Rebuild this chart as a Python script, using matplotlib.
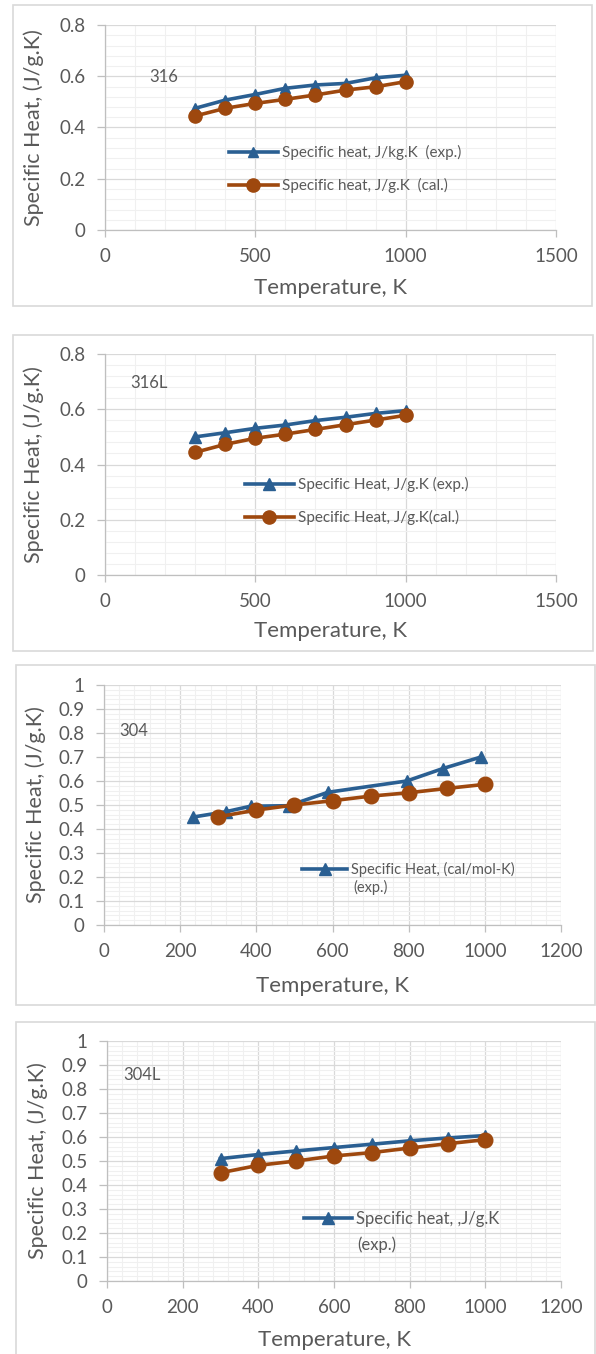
import matplotlib
matplotlib.use("Agg")
import matplotlib.pyplot as plt
from matplotlib.ticker import MultipleLocator, FuncFormatter
from matplotlib.patches import Rectangle

# ---------------- data ----------------
T_316 = [300, 400, 500, 600, 700, 800, 900, 1000]
cp_316_exp = [0.475, 0.507, 0.529, 0.553, 0.566, 0.572, 0.594, 0.604]
cp_316_cal = [0.445, 0.475, 0.494, 0.510, 0.527, 0.546, 0.559, 0.579]

T_316L = [300, 400, 500, 600, 700, 800, 900, 1000]
cp_316L_exp = [0.500, 0.515, 0.531, 0.543, 0.559, 0.571, 0.585, 0.595]
cp_316L_cal = [0.444, 0.473, 0.495, 0.510, 0.527, 0.544, 0.561, 0.578]

T_304_exp = [235, 320, 385, 485, 588, 795, 890, 990]
cp_304_exp = [0.450, 0.472, 0.495, 0.497, 0.553, 0.600, 0.652, 0.700]
T_304_cal = [300, 400, 500, 600, 700, 800, 900, 1000]
cp_304_cal = [0.451, 0.479, 0.500, 0.518, 0.537, 0.551, 0.569, 0.586]

T_304L = [300, 400, 500, 600, 700, 800, 900, 1000]
cp_304L_exp = [0.510, 0.527, 0.542, 0.556, 0.570, 0.584, 0.596, 0.606]
cp_304L_cal = [0.451, 0.482, 0.500, 0.521, 0.535, 0.554, 0.572, 0.589]

labels_316 = ["Specific heat, J/kg.K  (exp.)", "Specific heat, J/g.K  (cal.)"]
labels_316L = ["Specific Heat, J/g.K (exp.)", "Specific Heat, J/g.K(cal.)"]
label_304 = "Specific Heat, (cal/mol-K)"
label_304L = "Specific heat, ,J/g.K"

# ---------------- style ----------------
plt.rcParams['font.family'] = ['Lato', 'DejaVu Sans']
TXT = '#595959'
BLUE = '#2A5F92'
ORANGE = '#9E480E'
W, H = 596, 1354
fig = plt.figure(figsize=(W / 100, H / 100), dpi=100)


def fx(px):
    return px / W


def fy(py):
    return 1 - py / H


def border(l, t, r, b):
    fig.patches.append(Rectangle((fx(l), fy(b)), (r - l) / W, (b - t) / H,
                                 transform=fig.transFigure, fill=False,
                                 ec='#D9D9D9', lw=1.2))


def make_axes(l, t, r, b, xmax, xmaj, xmin, ymax, ymaj, ymin, ylab_x, xlab_y):
    ax = fig.add_axes([fx(l), fy(b), (r - l) / W, (b - t) / H])
    ax.set_xlim(0, xmax)
    ax.set_ylim(0, ymax)
    ax.xaxis.set_major_locator(MultipleLocator(xmaj))
    ax.xaxis.set_minor_locator(MultipleLocator(xmin))
    ax.yaxis.set_major_locator(MultipleLocator(ymaj))
    ax.yaxis.set_minor_locator(MultipleLocator(ymin))
    fmt = FuncFormatter(lambda v, p: ('%g' % round(v, 3)))
    ax.xaxis.set_major_formatter(fmt)
    ax.yaxis.set_major_formatter(fmt)
    ax.grid(which='minor', color='#F0F0F0', lw=0.8)
    ax.grid(which='major', color='#D9D9D9', lw=0.9)
    ax.set_axisbelow(True)
    for s in ['top', 'right']:
        ax.spines[s].set_visible(False)
    for s in ['left', 'bottom']:
        ax.spines[s].set_color('#BFBFBF')
        ax.spines[s].set_linewidth(0.9)
    ax.tick_params(which='minor', length=0)
    ax.tick_params(axis='y', which='major', length=6, width=0.9, color='#BFBFBF',
                   labelsize=13.5, labelcolor=TXT, pad=8)
    ax.tick_params(axis='x', which='major', length=5, width=0.9, color='#BFBFBF',
                   labelsize=13.5, labelcolor=TXT, pad=8)
    ax.set_ylabel('Specific Heat, (J/g.K)', fontsize=15.5, color=TXT)
    ax.set_xlabel('Temperature, K', fontsize=16, color=TXT)
    ax.yaxis.set_label_coords((ylab_x + 11 - l) / (r - l), 0.5)
    ax.xaxis.set_label_coords(0.5, -(xlab_y - 12 - b) / (b - t))
    return ax


def note(ax, text, x, y):
    fig.text(fx(x), fy(y), text, fontsize=12, color=TXT, ha='center', va='center')


def legend(ax, x, y, fs=11, spacing=1.2, hl=3.2):
    leg = ax.legend(loc='upper left', bbox_to_anchor=(fx(x), fy(y)),
                    bbox_transform=fig.transFigure, frameon=False,
                    handlelength=hl, handletextpad=0.25, borderpad=0,
                    borderaxespad=0, labelspacing=spacing, fontsize=fs,
                    labelcolor=TXT)
    return leg


LW = 2.6

# ---------------- panel 1 : 316 ----------------
border(13, 5, 592, 306)
ax1 = make_axes(105, 25, 556, 230, 1500, 500, 100, 0.8, 0.2, 0.04, 33, 290)
ax1.plot(T_316, cp_316_exp, color=BLUE, lw=LW, marker='^', ms=7.5, label=labels_316[0])
ax1.plot(T_316, cp_316_cal, color=ORANGE, lw=LW, marker='o', ms=9.5, label=labels_316[1])
note(ax1, '316', 164, 77)
legend(ax1, 229, 145)

# ---------------- panel 2 : 316L ----------------
border(13, 335, 593, 651)
ax2 = make_axes(105, 354, 556, 575, 1500, 500, 100, 0.8, 0.2, 0.04, 33, 633)
ax2.plot(T_316L, cp_316L_exp, color=BLUE, lw=LW, marker='^', ms=8, label=labels_316L[0])
ax2.plot(T_316L, cp_316L_cal, color=ORANGE, lw=LW, marker='o', ms=9.5, label=labels_316L[1])
note(ax2, '316L', 149, 383)
legend(ax2, 245, 477)

# ---------------- panel 3 : 304 ----------------
border(16, 665, 595, 1005)
ax3 = make_axes(104, 685, 561, 925, 1200, 200, 40, 1.0, 0.1, 0.02, 35, 988)
ax3.plot(T_304_exp, cp_304_exp, color=BLUE, lw=LW, marker='^', ms=9, label=label_304)
ax3.plot(T_304_cal, cp_304_cal, color=ORANGE, lw=LW, marker='o', ms=10.5, label='_nolegend_')
note(ax3, '304', 134, 731)
legend(ax3, 302, 862, fs=10.5, hl=3.1)
fig.text(fx(353), fy(887), '(exp.)', fontsize=10.5, color=TXT, ha='left', va='center')

# ---------------- panel 4 : 304L ----------------
border(16, 1022, 595, 1360)
ax4 = make_axes(107, 1041, 561, 1281, 1200, 200, 40, 1.0, 0.1, 0.02, 37, 1342)
ax4.plot(T_304L, cp_304L_exp, color=BLUE, lw=LW, marker='^', ms=8, label=label_304L)
ax4.plot(T_304L, cp_304L_cal, color=ORANGE, lw=LW, marker='o', ms=10.5, label='_nolegend_')
note(ax4, '304L', 142, 1075)
legend(ax4, 304, 1211, fs=12, hl=2.9)
fig.text(fx(357), fy(1245), '(exp.)', fontsize=12, color=TXT, ha='left', va='center')

fig.savefig('out.png', dpi=100)
